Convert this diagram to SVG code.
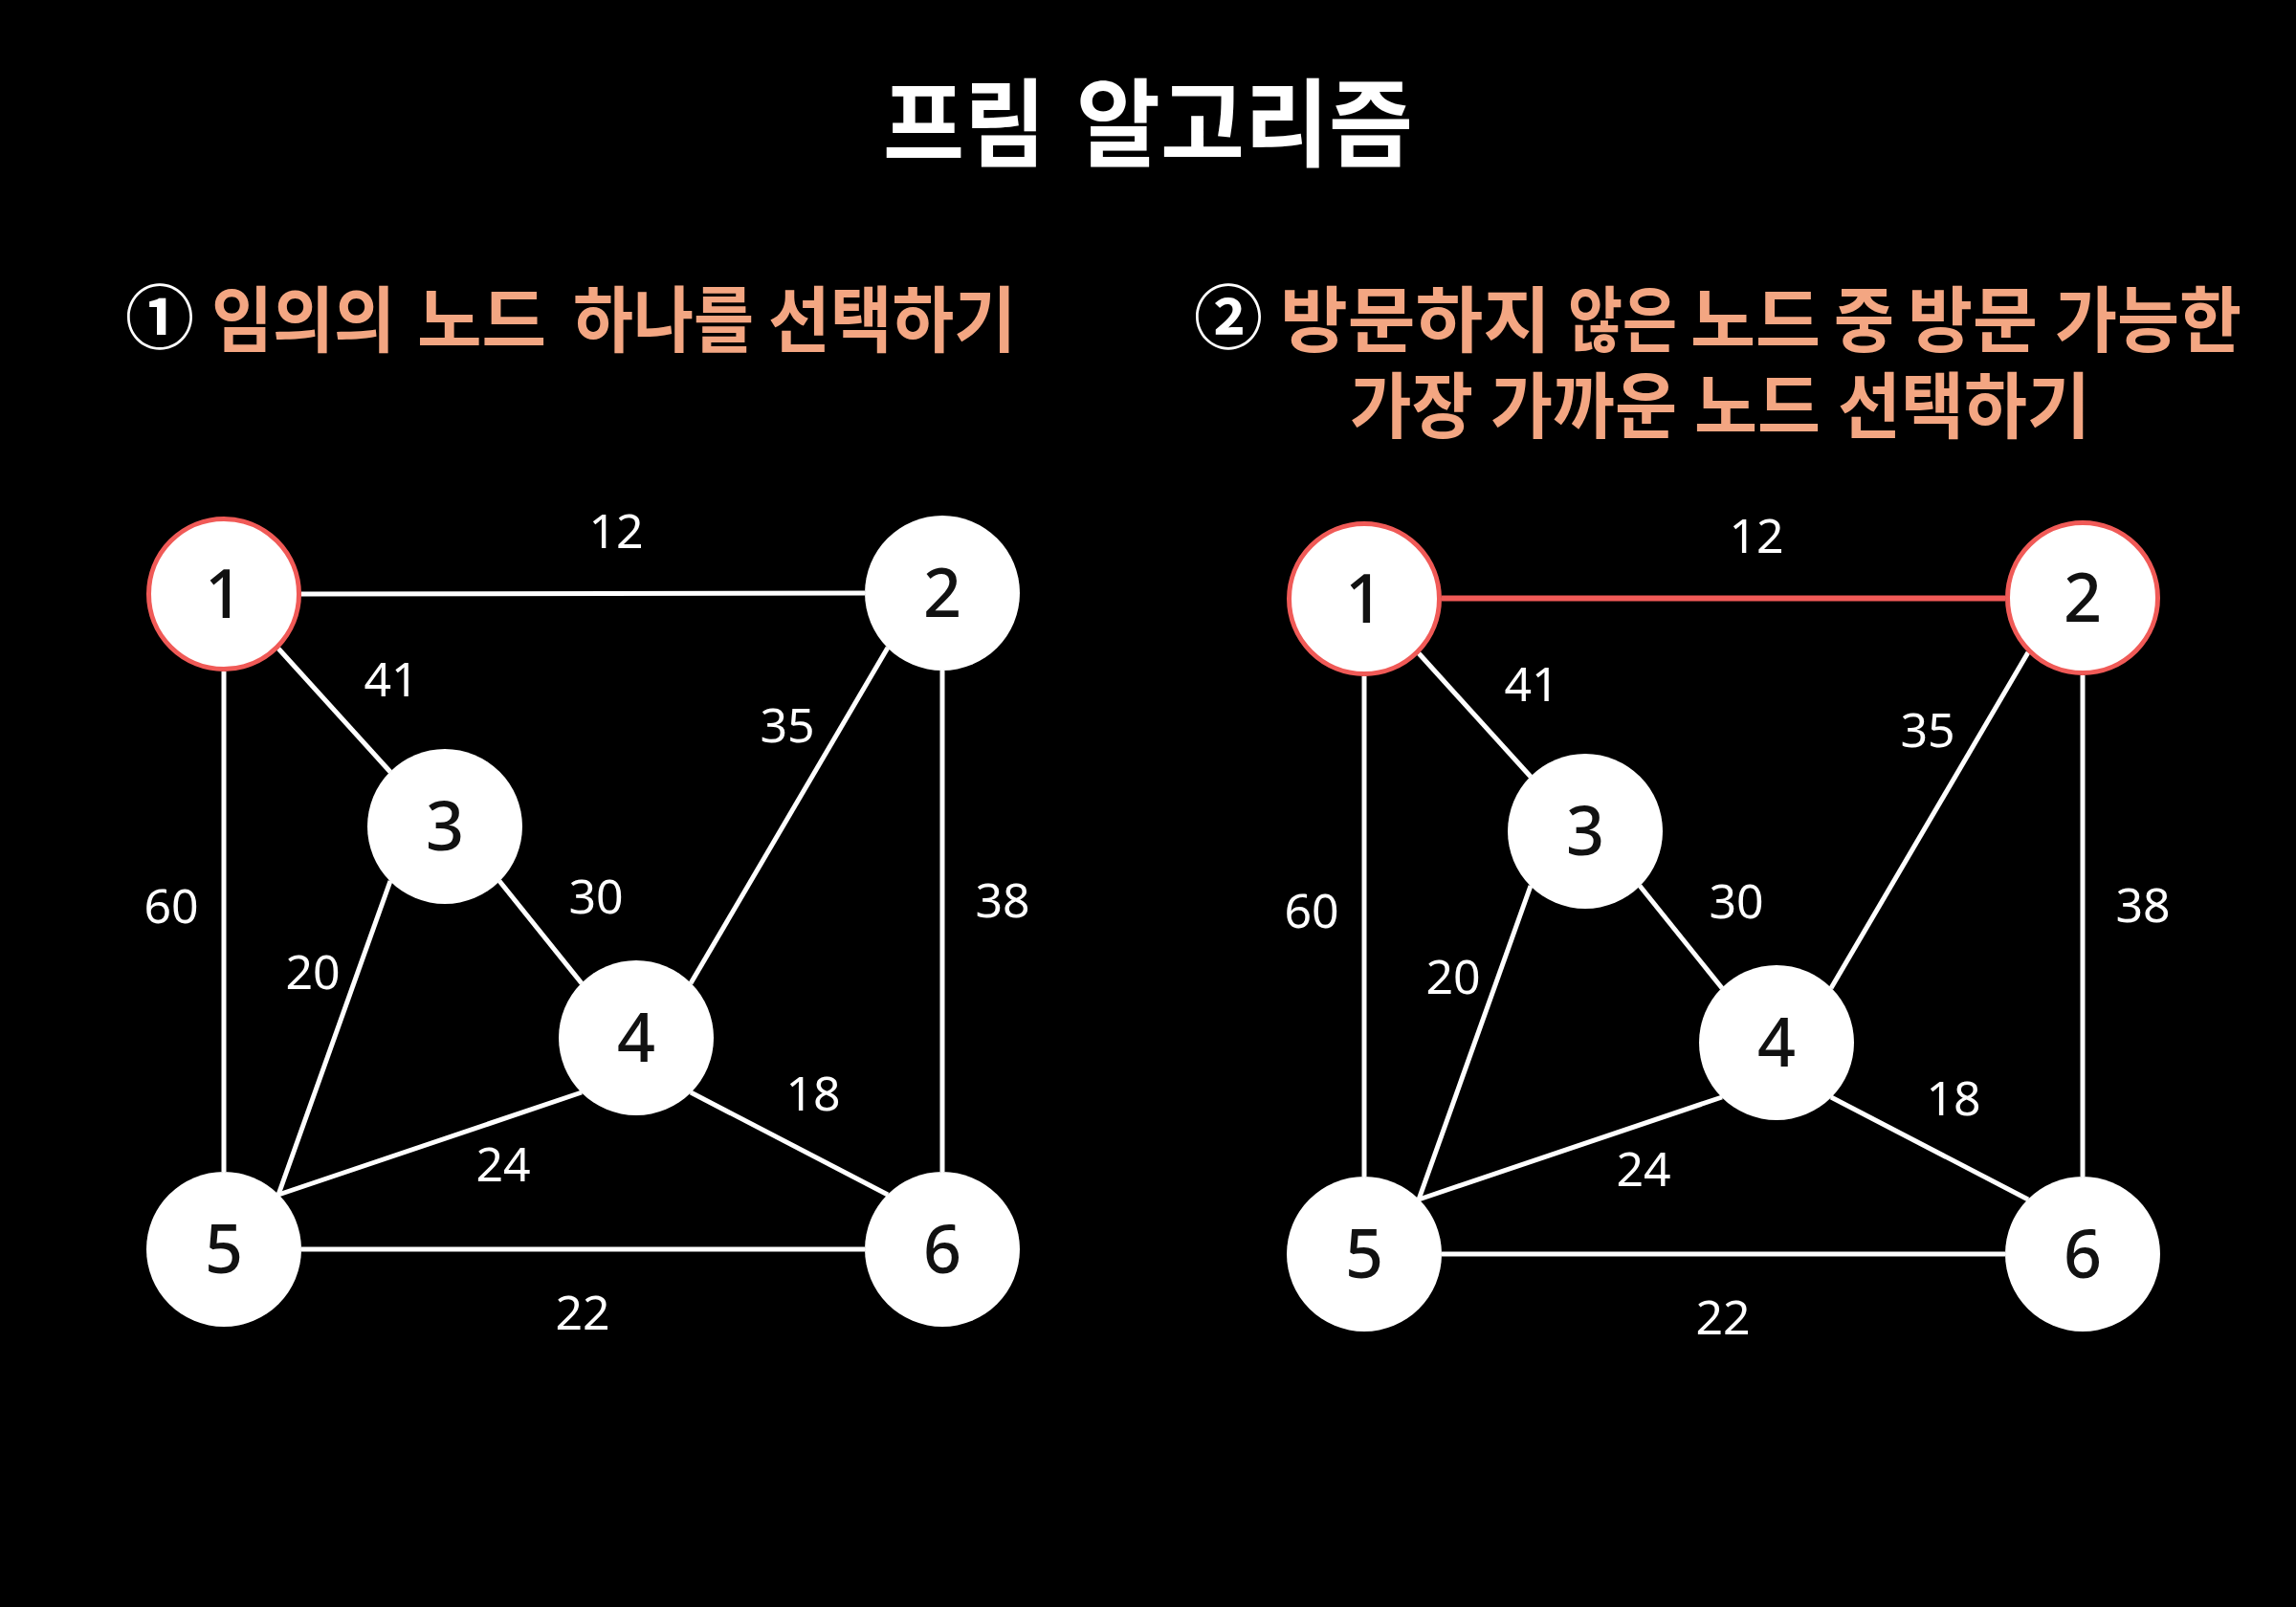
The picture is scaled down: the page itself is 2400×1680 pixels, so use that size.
<svg xmlns="http://www.w3.org/2000/svg" width="2400" height="1680" viewBox="0 0 2400 1680">
<defs>
<style>
.bg{fill:#000}
.title{font-family:"Noto Sans CJK KR","Noto Sans",sans-serif;font-weight:700;font-size:100px;fill:#fff}
.sub{font-family:"Noto Sans CJK KR","Noto Sans",sans-serif;font-weight:700;font-size:75px;fill:#F3A682}
.circ{font-family:"Noto Sans CJK KR","Noto Sans",sans-serif;font-weight:700;font-size:72px;fill:#fff;text-anchor:middle}
.edge{stroke:#fff;stroke-width:5;fill:none}
.edge.sel{stroke:#F05A57;stroke-width:6}
.node circle{fill:#fff}
.node.sel circle{stroke:#F05A57;stroke-width:5}
.nl{font-family:"Noto Sans","Open Sans",sans-serif;font-size:70px;font-weight:500;fill:#111;text-anchor:middle}
.el{font-family:"Noto Sans","Open Sans",sans-serif;font-size:50px;font-weight:400;fill:#fff;text-anchor:middle}
</style>
</defs>
<rect class="bg" x="0" y="0" width="2400" height="1680"/>

<g id="title">
<text class="title" y="166"><tspan x="923" textLength="170" lengthAdjust="spacingAndGlyphs">프림</tspan><tspan x="1125" textLength="352" lengthAdjust="spacingAndGlyphs">알고리즘</tspan></text>
</g>

<g id="subtitle1">
<text class="circ" x="167" y="358">①</text>
<text class="sub" y="362"><tspan x="221" textLength="192" lengthAdjust="spacingAndGlyphs">임의의</tspan><tspan x="436" textLength="135" lengthAdjust="spacingAndGlyphs">노드</tspan><tspan x="599" textLength="189" lengthAdjust="spacingAndGlyphs">하나를</tspan><tspan x="803" textLength="259" lengthAdjust="spacingAndGlyphs">선택하기</tspan></text>
</g>

<g id="subtitle2">
<text class="circ" x="1284" y="358">②</text>
<text class="sub" y="362"><tspan x="1338" textLength="283" lengthAdjust="spacingAndGlyphs">방문하지</tspan><tspan x="1639" textLength="114" lengthAdjust="spacingAndGlyphs">않은</tspan><tspan x="1767" textLength="136" lengthAdjust="spacingAndGlyphs">노드</tspan><tspan x="1917" textLength="63" lengthAdjust="spacingAndGlyphs">중</tspan><tspan x="1994" textLength="136" lengthAdjust="spacingAndGlyphs">방문</tspan><tspan x="2148" textLength="195" lengthAdjust="spacingAndGlyphs">가능한</tspan></text>
<text class="sub" y="452"><tspan x="1411" textLength="129" lengthAdjust="spacingAndGlyphs">가장</tspan><tspan x="1558" textLength="195" lengthAdjust="spacingAndGlyphs">가까운</tspan><tspan x="1771" textLength="132" lengthAdjust="spacingAndGlyphs">노드</tspan><tspan x="1921" textLength="264" lengthAdjust="spacingAndGlyphs">선택하기</tspan></text>
</g>

<!-- Graph 1 -->
<g id="graph1">
<g id="g1-connectors">
<line class="edge" x1="315" y1="621" x2="904" y2="620"/>
<line class="edge" x1="291" y1="678" x2="408" y2="807"/>
<line class="edge" x1="234" y1="702" x2="234" y2="1225"/>
<line class="edge" x1="928" y1="677" x2="722" y2="1028"/>
<line class="edge" x1="985" y1="701" x2="985" y2="1225"/>
<line class="edge" x1="522" y1="921" x2="608" y2="1028"/>
<line class="edge" x1="408" y1="921" x2="291" y2="1249"/>
<line class="edge" x1="608" y1="1142" x2="291" y2="1249"/>
<line class="edge" x1="722" y1="1142" x2="928" y2="1249"/>
<line class="edge" x1="315" y1="1306" x2="904" y2="1306"/>
</g>
<g id="g1-edge-labels">
<text class="el" x="644" y="573">12</text>
<text class="el" x="409" y="728">41</text>
<text class="el" x="823" y="776">35</text>
<text class="el" x="179" y="965">60</text>
<text class="el" x="327" y="1034">20</text>
<text class="el" x="623" y="955">30</text>
<text class="el" x="1048" y="959">38</text>
<text class="el" x="850" y="1161">18</text>
<text class="el" x="526" y="1235">24</text>
<text class="el" x="609" y="1390">22</text>
</g>
<g id="g1-n1" class="node sel"><circle cx="234" cy="621" r="78.5"/><text class="nl" x="234" y="646">1</text></g>
<g id="g1-n2" class="node"><circle cx="985" cy="620" r="81"/><text class="nl" x="985" y="645">2</text></g>
<g id="g1-n3" class="node"><circle cx="465" cy="864" r="81"/><text class="nl" x="465" y="889">3</text></g>
<g id="g1-n4" class="node"><circle cx="665" cy="1085" r="81"/><text class="nl" x="665" y="1110">4</text></g>
<g id="g1-n5" class="node"><circle cx="234" cy="1306" r="81"/><text class="nl" x="234" y="1331">5</text></g>
<g id="g1-n6" class="node"><circle cx="985" cy="1306" r="81"/><text class="nl" x="985" y="1331">6</text></g>
</g>

<!-- Graph 2 -->
<g id="graph2" transform="translate(1192,5)">
<g id="g2-connectors">
<line class="edge sel" x1="315" y1="620.5" x2="904" y2="620.5"/>
<line class="edge" x1="291" y1="678" x2="408" y2="807"/>
<line class="edge" x1="234" y1="702" x2="234" y2="1225"/>
<line class="edge" x1="928" y1="677" x2="722" y2="1028"/>
<line class="edge" x1="985" y1="701" x2="985" y2="1225"/>
<line class="edge" x1="522" y1="921" x2="608" y2="1028"/>
<line class="edge" x1="408" y1="921" x2="291" y2="1249"/>
<line class="edge" x1="608" y1="1142" x2="291" y2="1249"/>
<line class="edge" x1="722" y1="1142" x2="928" y2="1249"/>
<line class="edge" x1="315" y1="1306" x2="904" y2="1306"/>
</g>
<g id="g2-edge-labels">
<text class="el" x="644" y="573">12</text>
<text class="el" x="409" y="728">41</text>
<text class="el" x="823" y="776">35</text>
<text class="el" x="179" y="965">60</text>
<text class="el" x="327" y="1034">20</text>
<text class="el" x="623" y="955">30</text>
<text class="el" x="1048" y="959">38</text>
<text class="el" x="850" y="1161">18</text>
<text class="el" x="526" y="1235">24</text>
<text class="el" x="609" y="1390">22</text>
</g>
<g id="g2-n1" class="node sel"><circle cx="234" cy="621" r="78.5"/><text class="nl" x="234" y="646">1</text></g>
<g id="g2-n2" class="node sel"><circle cx="985" cy="620" r="78.5"/><text class="nl" x="985" y="645">2</text></g>
<g id="g2-n3" class="node"><circle cx="465" cy="864" r="81"/><text class="nl" x="465" y="889">3</text></g>
<g id="g2-n4" class="node"><circle cx="665" cy="1085" r="81"/><text class="nl" x="665" y="1110">4</text></g>
<g id="g2-n5" class="node"><circle cx="234" cy="1306" r="81"/><text class="nl" x="234" y="1331">5</text></g>
<g id="g2-n6" class="node"><circle cx="985" cy="1306" r="81"/><text class="nl" x="985" y="1331">6</text></g>
</g>
</svg>
